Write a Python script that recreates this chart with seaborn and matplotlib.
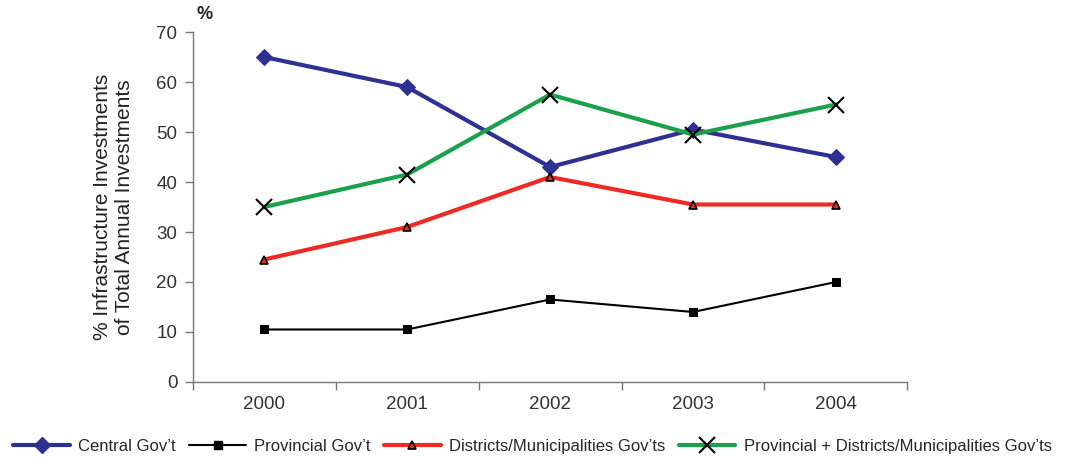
import matplotlib
matplotlib.use("Agg")
import matplotlib.pyplot as plt
from matplotlib.lines import Line2D
import seaborn as sns
import pandas as pd
import numpy as np

years = ["2000", "2001", "2002", "2003", "2004"]
central = [65, 59, 43, 50.5, 45]
provincial = [10.5, 10.5, 16.5, 14, 20]
districts = [24.5, 31, 41, 35.5, 35.5]
prov_dist = [35, 41.5, 57.5, 49.5, 55.5]
series_names = ["Central Gov\u2019t", "Provincial Gov\u2019t",
                "Districts/Municipalities Gov\u2019ts",
                "Provincial + Districts/Municipalities Gov\u2019ts"]
y_ticks = [0, 10, 20, 30, 40, 50, 60, 70]

sns.set_theme(style="white")
plt.rcParams['font.family'] = ['Liberation Sans', 'DejaVu Sans']

colors = ["#2e3192", "#000000", "#ee2a24", "#1ba14b"]
markers = ["D", "s", "^", "x"]
lws = [3, 1.5, 3, 3]
msizes = [8, 6, 6, 11]

fig = plt.figure(figsize=(10.65, 4.58), dpi=100)
ax = fig.add_axes([0.181, 0.166, 0.671, 0.764])

xpos = np.arange(len(years))
handles = []
for name, vals, c, m, lw, ms in zip(series_names, [central, provincial, districts, prov_dist],
                                    colors, markers, lws, msizes):
    df = pd.DataFrame({"x": xpos, "y": vals})
    kw = dict(marker=m, markersize=ms, color=c, linewidth=lw)
    if m == "^":
        kw.update(markerfacecolor="#ee2a24", markeredgecolor="black", markeredgewidth=1.2)
    elif m == "x":
        kw.update(markeredgecolor="black", markeredgewidth=1.5)
    else:
        kw.update(markeredgecolor=c)
    sns.lineplot(data=df, x="x", y="y", ax=ax, legend=False, **kw)
    handles.append(Line2D([], [], label=name, **kw))

ax.set_xlim(-0.5, len(years) - 0.5)
ax.set_ylim(0, 70)
ax.set_yticks(y_ticks)
ax.set_yticklabels([str(v) for v in y_ticks], fontsize=13.5, color="#333333")
ax.set_xticks(xpos)
ax.set_xticklabels(years, fontsize=13.5, color="#333333")
ax.set_xticks(np.arange(-0.5, len(years)), minor=True)
ax.tick_params(axis="x", which="major", length=0, pad=10)
ax.tick_params(axis="x", which="minor", length=6, width=1, color="#777777", direction="out", bottom=True)
ax.tick_params(axis="y", length=6, width=1, color="#777777", direction="out", left=True, pad=5)
ax.set_xlabel("")
ax.set_ylabel("% Infrastructure Investments\nof Total Annual Investments",
              fontsize=15, labelpad=16, color="#222222", linespacing=1.25)
for s in ["top", "right"]:
    ax.spines[s].set_visible(False)
for s in ["left", "bottom"]:
    ax.spines[s].set_color("#777777")
    ax.spines[s].set_linewidth(1)

ax.text(0.005, 1.025, "%", transform=ax.transAxes, fontsize=13, fontweight="bold",
        va="bottom", ha="left", color="#222222")

fig.legend(handles=handles, loc="center", bbox_to_anchor=(0.5, 0.026),
           ncol=4, frameon=False, fontsize=12, handlelength=3.4, columnspacing=0.8,
           handletextpad=0.5, borderaxespad=0)

fig.savefig("out.png", dpi=100)
